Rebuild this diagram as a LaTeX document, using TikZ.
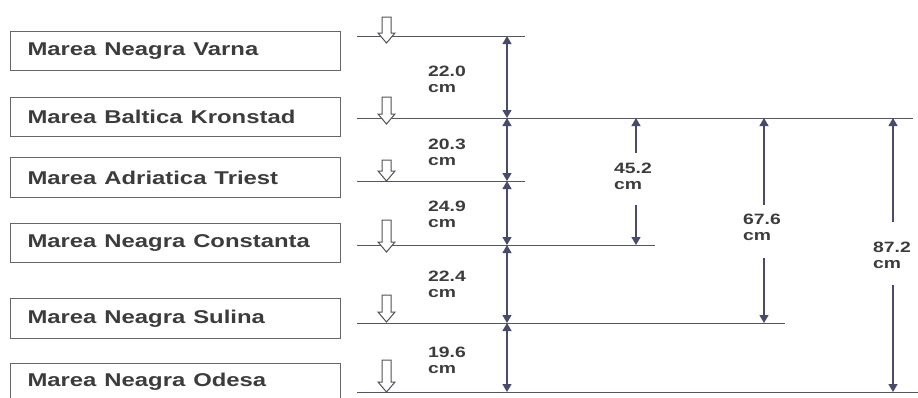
\documentclass[tikz,border=0pt]{standalone}
\usepackage{fontspec}
\setmainfont{Liberation Sans}
\usetikzlibrary{arrows.meta}
\definecolor{boxline}{HTML}{666666}
\definecolor{boxtext}{HTML}{3C3C3C}
\definecolor{dimcol}{HTML}{4A4A6A}
\definecolor{levline}{HTML}{55556A}
\newcommand{\hollowarrow}[3]{%
  \draw[hollow] (#1-4.5,#2) -- (#1-4.5,#3-10) -- (#1-8.5,#3-10) -- (#1,#3) -- (#1+8.5,#3-10) -- (#1+4.5,#3-10) -- (#1+4.5,#2) -- cycle;}
\tikzset{
  boxnode/.style={draw=boxline, line width=1pt, anchor=north west, text width=296pt, inner xsep=17pt, inner ysep=0pt, align=left, text=boxtext, font=\fontsize{18.5}{20}\selectfont\bfseries},
  dimlabel/.style={anchor=base west, align=left, inner sep=0pt, text=boxtext, font=\fontsize{15}{16}\selectfont\bfseries},
  levelline/.style={draw=levline, line width=0.9pt},
  dimarrow/.style={draw=dimcol, line width=1.2pt, -{Triangle[width=9pt,length=8pt]}},
  dimboth/.style={draw=dimcol, line width=1.2pt, {Triangle[width=9pt,length=8pt]}-{Triangle[width=9pt,length=8pt]}},
  hollow/.style={draw=boxline!80!black, line width=1pt, fill=white}
}
\newcommand{\sx}[1]{\scalebox{1.29}[1]{#1}}
\begin{document}
\begin{tikzpicture}[x=1pt,y=-1pt]
\useasboundingbox (0,0) rectangle (918,397);
% boxes
\node[boxnode, minimum height=39pt] (b1) at (10,31) {\sx{Marea Neagra Varna}};
\node[boxnode, minimum height=39pt] (b2) at (10,97) {\sx{Marea Baltica Kronstad}};
\node[boxnode, minimum height=40pt] (b3) at (10,157) {\sx{Marea Adriatica Triest}};
\node[boxnode, minimum height=39pt] (b4) at (10,223) {\sx{Marea Neagra Constanta}};
\node[boxnode, minimum height=40pt] (b5) at (10,298) {\sx{Marea Neagra Sulina}};
\node[boxnode, minimum height=37pt] (b6) at (10,363) {\sx{Marea Neagra Odesa}};
% level line ends
\coordinate (l1a) at (357,36);  \coordinate (l1b) at (525,36);
\coordinate (l2a) at (357,118); \coordinate (l2b) at (913,118);
\coordinate (l3a) at (357,181); \coordinate (l3b) at (525,181);
\coordinate (l4a) at (357,245); \coordinate (l4b) at (655,245);
\coordinate (l5a) at (357,323); \coordinate (l5b) at (785,323);
\coordinate (l6a) at (357,392); \coordinate (l6b) at (918,392);
\foreach \i in {1,...,6} {\draw[levelline] (l\i a) -- (l\i b);}
% hollow arrows
\hollowarrow{386.5}{17}{43}
\hollowarrow{386.5}{97}{124}
\hollowarrow{386.5}{160}{181}
\hollowarrow{386.5}{220}{252}
\hollowarrow{386.5}{295}{322}
\hollowarrow{386.5}{360}{392}
% main dimension column
\coordinate (m1) at (507,36);
\coordinate (m2) at (507,118);
\coordinate (m3) at (507,181);
\coordinate (m4) at (507,245);
\coordinate (m5) at (507,323);
\coordinate (m6) at (507,392);
\draw[dimboth] (m1) -- (m2);
\draw[dimboth] (m2) -- (m3);
\draw[dimboth] (m3) -- (m4);
\draw[dimboth] (m4) -- (m5);
\draw[dimboth] (m5) -- (m6);
\node[dimlabel] (t1) at (428,92) {\sx{22.0}\\\sx{cm}};
\node[dimlabel] (t2) at (428,165) {\sx{20.3}\\\sx{cm}};
\node[dimlabel] (t3) at (428,227) {\sx{24.9}\\\sx{cm}};
\node[dimlabel] (t4) at (428,297) {\sx{22.4}\\\sx{cm}};
\node[dimlabel] (t5) at (428,373) {\sx{19.6}\\\sx{cm}};
% 45.2
\coordinate (a1) at (636,153); \coordinate (a1e) at (636,118);
\coordinate (a2) at (636,205); \coordinate (a2e) at (636,245);
\draw[dimarrow] (a1) -- (a1e);
\draw[dimarrow] (a2) -- (a2e);
\node[dimlabel] (t6) at (614,189) {\sx{45.2}\\\sx{cm}};
% 67.6
\coordinate (c1) at (764,205); \coordinate (c1e) at (764,118);
\coordinate (c2) at (764,258); \coordinate (c2e) at (764,323);
\draw[dimarrow] (c1) -- (c1e);
\draw[dimarrow] (c2) -- (c2e);
\node[dimlabel] (t7) at (743,240) {\sx{67.6}\\\sx{cm}};
% 87.2
\coordinate (e1) at (893,222); \coordinate (e1e) at (893,118);
\coordinate (e2) at (893,285); \coordinate (e2e) at (893,392);
\draw[dimarrow] (e1) -- (e1e);
\draw[dimarrow] (e2) -- (e2e);
\node[dimlabel] (t8) at (873,268) {\sx{87.2}\\\sx{cm}};
\end{tikzpicture}
\end{document}
